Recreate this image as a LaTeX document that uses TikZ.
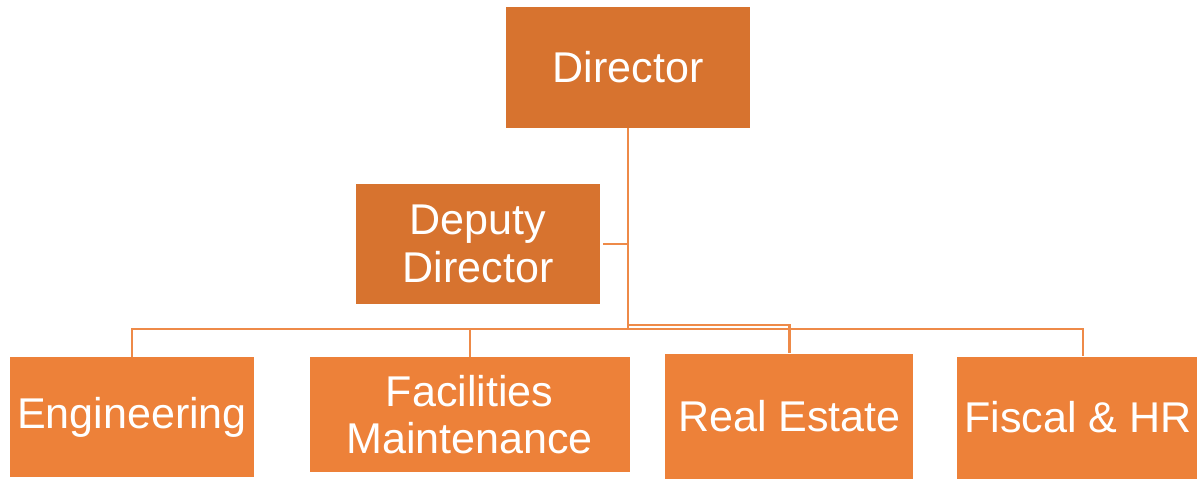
\documentclass[tikz,border=0pt]{standalone}
\usepackage{fontspec}
\setmainfont{Liberation Sans}
\usepackage{xcolor}
\usepackage{tikz}
\usetikzlibrary{positioning}
\definecolor{HeadOrange}{HTML}{D7732F}
\definecolor{UnitOrange}{HTML}{ED8139}
\definecolor{LinkOrange}{HTML}{EE8A48}

\begin{document}
\begin{tikzpicture}[
            topbox/.style={fill=HeadOrange, text=white, inner sep=0pt, minimum width=4.88cm, minimum height=2.42cm, align=center, font=\fontsize{24.5}{27}\selectfont},
            unitbox/.style={fill=UnitOrange, text=white, inner sep=0pt, minimum width=4.88cm, minimum height=2.4cm, align=center, font=\fontsize{24.5}{27}\selectfont},
            link/.style={draw=LinkOrange, line width=1.3pt}
        ]
            \useasboundingbox (0,0) rectangle (23.94,-9.58);

            \node[topbox] (dir) at (12.56,-1.35) {Director};
            \node[topbox, below=1.1cm of dir, xshift=-3cm, minimum height=2.4cm] (dep) {Deputy\\Director};

            \node[unitbox] (eng) at (2.64,-8.34) {Engineering};
            \node[unitbox, right=1.1cm of eng, yshift=0.05cm, minimum width=6.4cm, minimum height=2.3cm] (fac) {Facilities\\Maintenance};
            \node[unitbox, right=0.7cm of fac, yshift=-0.03cm, minimum width=4.96cm, minimum height=2.5cm] (re) {Real Estate};
            \node[unitbox, right=0.86cm of re, yshift=-0.03cm, minimum width=4.84cm, minimum height=2.44cm] (fis) {Fiscal \& HR};

            \coordinate (bus) at (12.56,-6.58);
            \coordinate (busr) at (12.56,-6.50);

            \draw[link] (dir.south) -- (bus);
            \draw[link] ([xshift=0.06cm]dep.east) -- (dep.east -| bus);
            \draw[link] (bus) -| (eng.north);
            \draw[link] (bus) -| (fac.north);
            \draw[link] (busr) -| (re.north);
            \draw[link] (bus) -| ([xshift=0.1cm]fis.north);

        \end{tikzpicture}
\end{document}
